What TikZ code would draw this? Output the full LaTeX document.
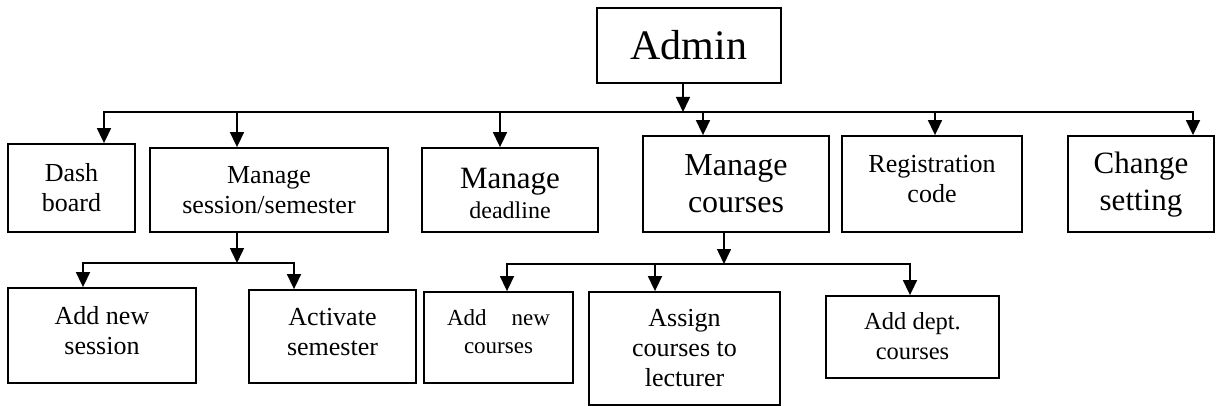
\documentclass[tikz,border=0pt]{standalone}
\usepackage{fontspec}
\setmainfont{Liberation Serif}
\usetikzlibrary{arrows.meta}
\begin{document}
\begin{tikzpicture}[x=1pt,y=-1pt,
  box/.style={draw, line width=1.8pt, inner sep=0pt},
  lbl/.style={align=center, inner sep=0pt, font=\fontsize{26}{30}\selectfont},
  bus/.style={line width=2.8pt},
  arr/.style={line width=1.6pt, -{Triangle[length=15pt,width=14pt]}},
]
\useasboundingbox (0,0) rectangle (1218,406);

% root
\node[box, minimum width=184pt, minimum height=75pt] (admin) at (689,45.5) {};
\node[lbl, font=\fontsize{42}{48}\selectfont] (adminT) at (admin.center) {Admin};

% first level
\node[box, minimum width=127pt, minimum height=88pt] (dash) at (71.5,188) {};
\node[lbl] (dashT) at (dash.center) {Dash\\board};
\node[box, minimum width=238pt, minimum height=84pt] (session) at (269,190) {};
\node[lbl] (sessionT) at (session.center) {Manage\\session/semester};
\node[box, minimum width=176pt, minimum height=84pt] (deadline) at (510,190) {};
\node[lbl] (deadlineT) at ([yshift=-3pt]deadline.center)
  {{\fontsize{31}{36}\selectfont Manage}\\{\fontsize{24}{28}\selectfont deadline}};
\node[box, minimum width=186pt, minimum height=96pt] (courses) at (736,184) {};
\node[lbl, font=\fontsize{32}{37}\selectfont] (coursesT) at (courses.center) {Manage\\courses};
\node[box, minimum width=180pt, minimum height=96pt] (reg) at (932,184) {};
\node[lbl] (regT) at ([yshift=5pt]reg.center) {Registration\\code};
\node[box, minimum width=146pt, minimum height=96pt] (change) at (1141,184) {};
\node[lbl, font=\fontsize{31}{37}\selectfont] (changeT) at ([yshift=-1pt]change.center) {Change\\setting};

% second level
\node[box, minimum width=188pt, minimum height=95pt] (addsession) at (102,335.5) {};
\node[lbl] (addsessionT) at ([yshift=5pt]addsession.center) {Add new\\session};
\node[box, minimum width=167pt, minimum height=93pt] (activate) at (332.5,336.5) {};
\node[lbl] (activateT) at ([yshift=4pt]activate.center) {Activate\\semester};
\node[box, minimum width=149pt, minimum height=91pt] (addcourses) at (498.5,337.5) {};
\node[lbl, font=\fontsize{23}{28}\selectfont] (addcoursesT) at ([yshift=6pt]addcourses.center)
  {Add\hspace{25pt}new\\courses};
\node[box, minimum width=191pt, minimum height=113pt] (assign) at (684.5,348.5) {};
\node[lbl] (assignT) at (assign.center) {Assign\\courses to\\lecturer};
\node[box, minimum width=173pt, minimum height=82pt] (adddept) at (912.5,337) {};
\node[lbl, font=\fontsize{24.5}{30}\selectfont] (adddeptT) at ([yshift=1pt]adddept.center) {Add dept.\\courses};

% main bus
\coordinate (busL) at (103.2,112);
\coordinate (busR) at (1193.8,112);
\coordinate (busA) at (683,112);
\draw[bus] (busL) -- (busR);
\draw[arr] (busA |- admin.south) -- (busA);
\foreach \n/\x in {dash/104, session/237, deadline/500, courses/703, reg/935, change/1193}{
  \coordinate (t\n) at (\x,112);
  \draw[arr] (t\n) -- (t\n |- \n.north);
}

% session branch
\coordinate (sA) at (237,263);
\coordinate (sL) at (82.2,263);
\coordinate (sR) at (294.8,263);
\draw[arr] (sA |- session.south) -- (sA);
\draw[bus] (sL) -- (sR);
\draw[arr] ([xshift=0.8pt]sL) -- ([xshift=0.8pt]sL |- addsession.north);
\draw[arr] ([xshift=-0.8pt]sR) -- ([xshift=-0.8pt]sR |- activate.north);

% courses branch
\coordinate (cA) at (724,264);
\coordinate (cL) at (506.2,264);
\coordinate (cM) at (655,264);
\coordinate (cR) at (910.8,264);
\draw[arr] (cA |- courses.south) -- (cA);
\draw[bus] (cL) -- (cR);
\draw[arr] ([xshift=0.8pt]cL) -- ([xshift=0.8pt]cL |- addcourses.north);
\draw[arr] (cM) -- (cM |- assign.north);
\draw[arr] ([xshift=-0.8pt]cR) -- ([xshift=-0.8pt]cR |- adddept.north);
\end{tikzpicture}
\end{document}
